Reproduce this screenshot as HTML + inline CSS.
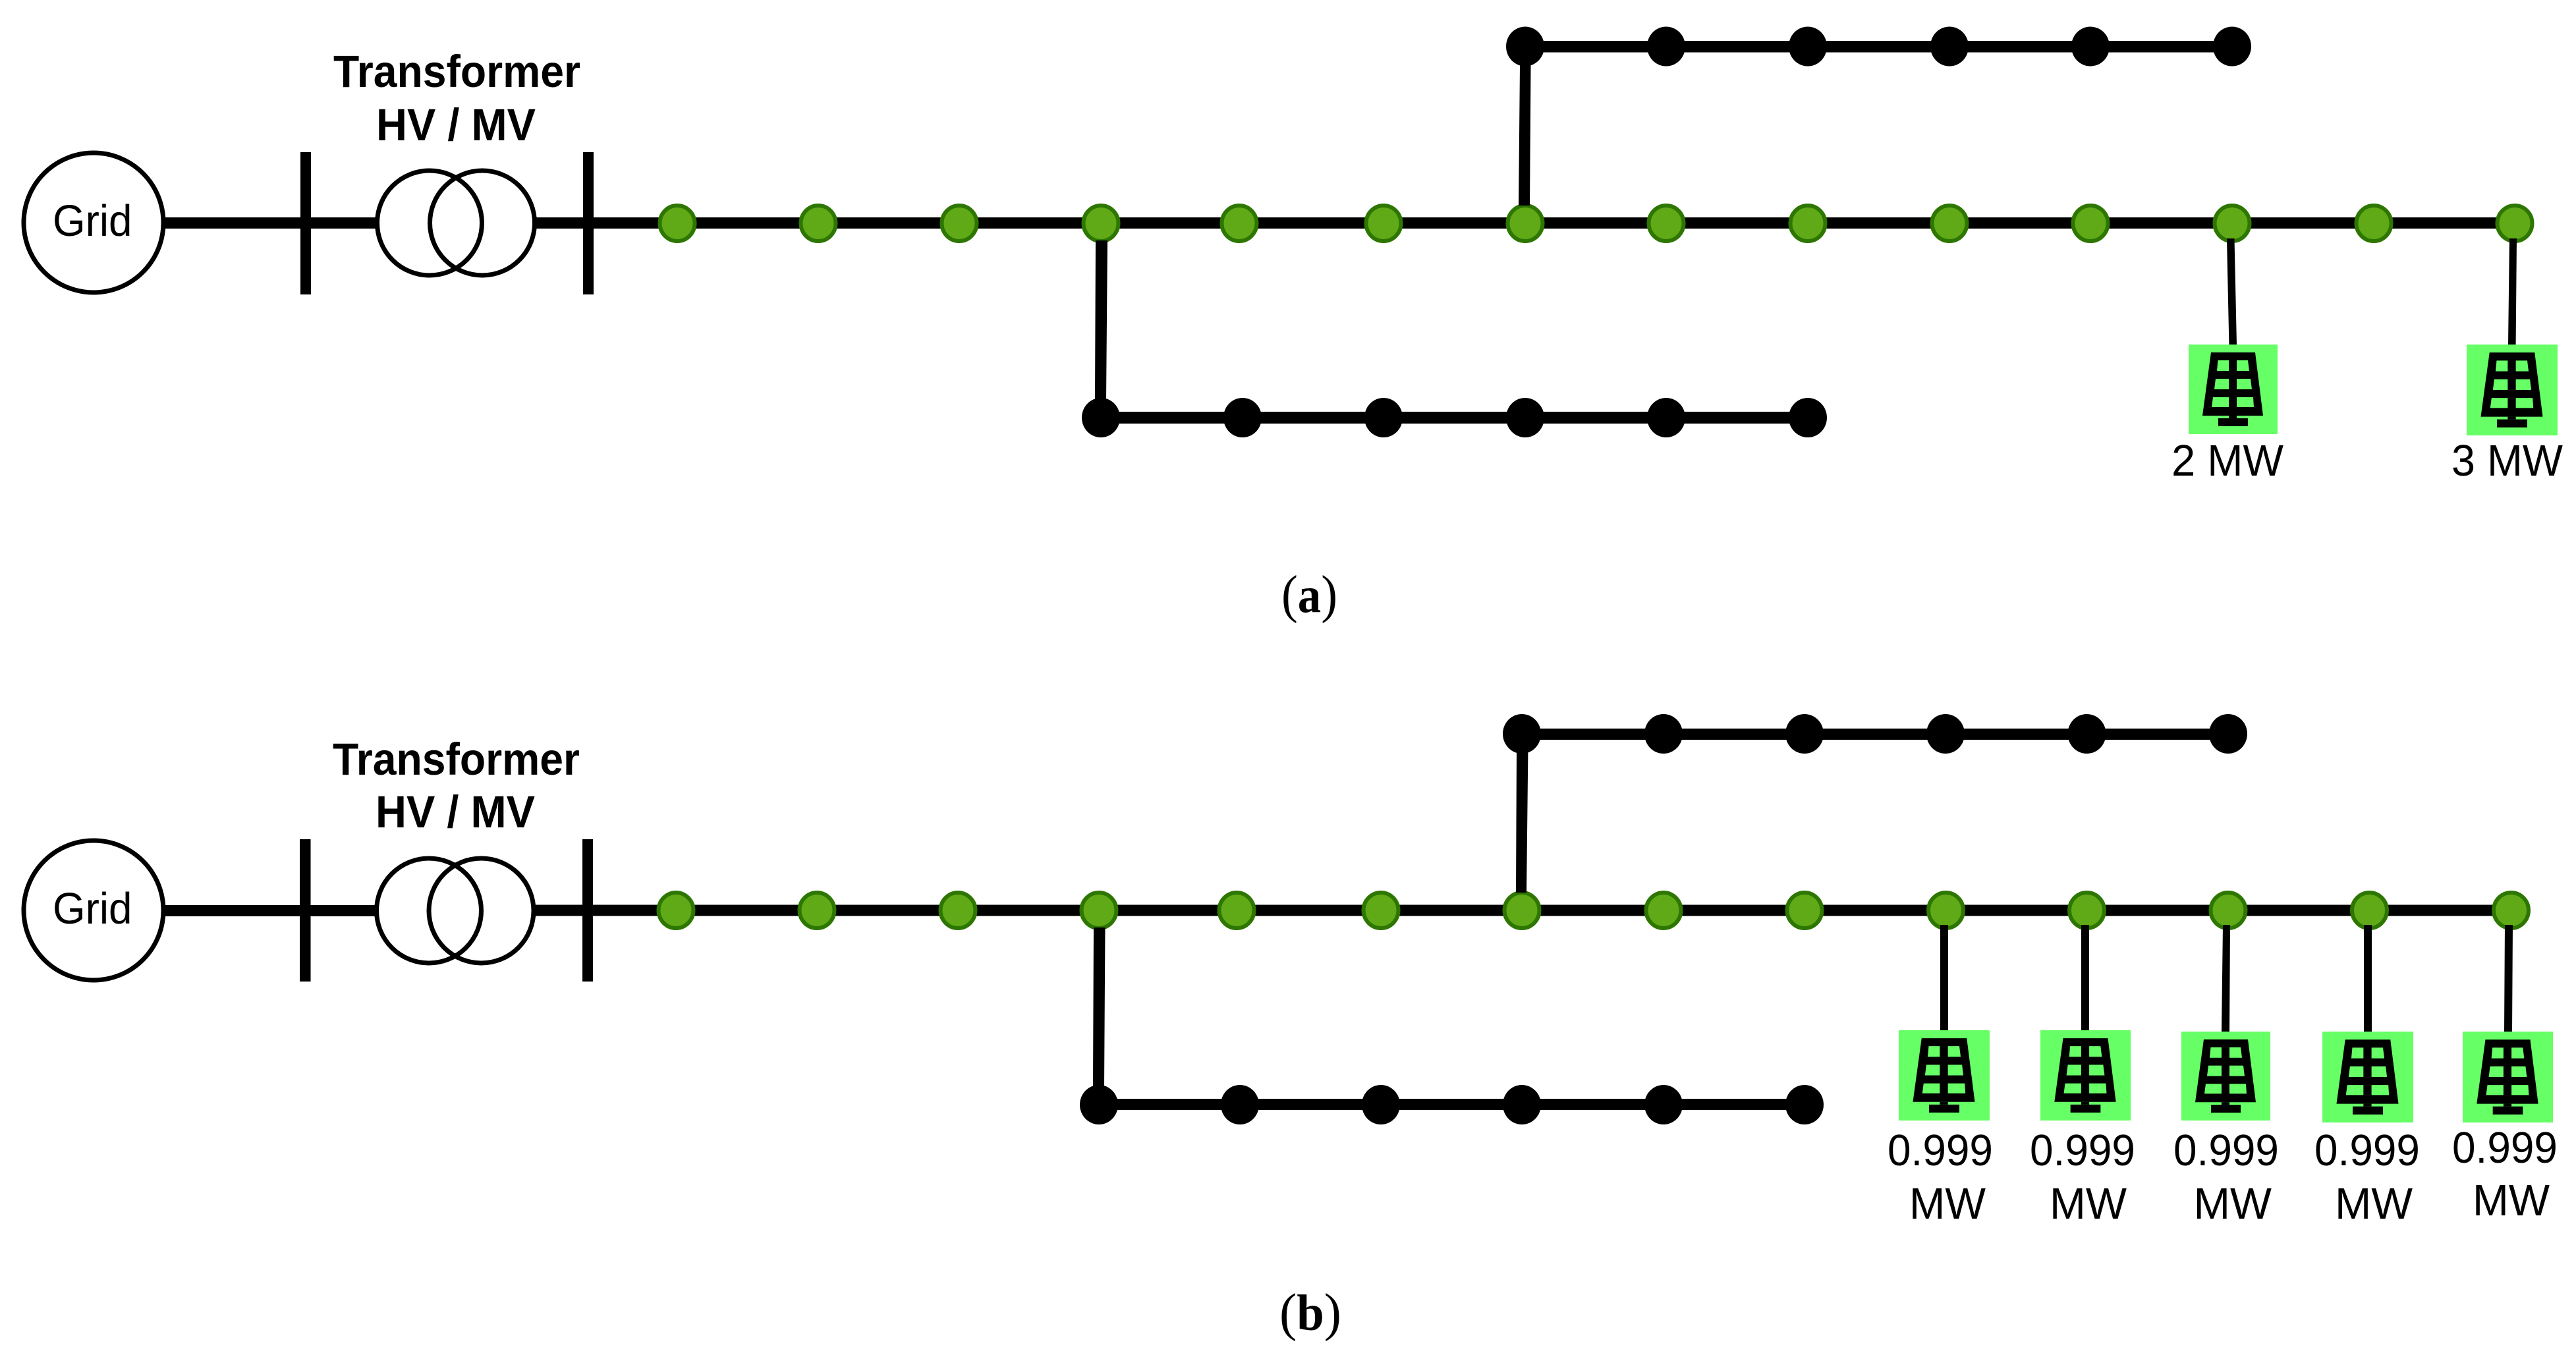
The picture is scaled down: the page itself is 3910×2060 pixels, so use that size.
<!DOCTYPE html>
<html>
<head>
<meta charset="utf-8">
<style>
html,body{margin:0;padding:0;background:#fff;width:3910px;height:2060px;overflow:hidden}
svg{display:block}
text{font-family:"Liberation Sans",sans-serif;fill:#000}
.b{font-weight:bold;font-size:68.5px}
.r{font-size:67px}
.c{font-family:"Liberation Serif",serif;font-size:81px}
.l{font-weight:bold;font-size:77px}
.g{fill:#60a917;stroke:#2d7600;stroke-width:6}
.k{fill:#000}
.o{fill:none;stroke:#000;stroke-width:7}
</style>
</head>
<body>
<svg xmlns="http://www.w3.org/2000/svg" width="3910" height="2060" viewBox="0 0 3910 2060">
<defs>
<symbol id="pv" viewBox="0 0 135 136" preserveAspectRatio="none">
<rect width="135" height="136" fill="#66ff66"/>
<path fill="#000" fill-rule="evenodd" d="M34 12L101 12L113 108L21 108ZM44.5 24L61 24L61 40L43 40ZM73 24L90 24L92 40L73 40ZM41 52L61 52L61 68L39 68ZM73 52L94 52L96 68L73 68ZM37 80L61 80L61 95L35 95ZM73 80L98 80L99 95L73 95Z"/>
<rect x="61" y="108" width="12" height="4" fill="#000"/>
<rect x="45" y="112" width="45" height="12" fill="#000"/>
</symbol>
<ellipse id="gn" rx="26.5" ry="27" class="g"/>
<ellipse id="kn" rx="29" ry="30" class="k"/>
</defs>

<!-- Panel (a) -->
<rect x="456" y="231" width="16" height="216"/>
<rect x="885" y="231" width="16" height="216"/>
<rect x="251" y="330" width="319" height="17"/>
<rect x="814" y="330" width="3003" height="17"/>
<circle cx="142" cy="338" r="106" class="o"/>
<circle cx="652" cy="338.5" r="79.5" class="o"/>
<circle cx="732" cy="338.5" r="79.5" class="o"/>
<text class="r" x="80" y="358" textLength="120.5" lengthAdjust="spacingAndGlyphs">Grid</text>
<text class="b" x="506" y="132" textLength="375" lengthAdjust="spacingAndGlyphs">Transformer</text>
<text class="b" x="571" y="213" textLength="242" lengthAdjust="spacingAndGlyphs">HV / MV</text>

<rect x="2315" y="62" width="1073" height="17.5"/>
<rect x="1671" y="625" width="1073" height="18"/>

<use href="#gn" x="1028" y="339"/><use href="#gn" x="1242" y="339"/><use href="#gn" x="1456" y="339"/>
<use href="#gn" x="1671" y="339"/><use href="#gn" x="1881" y="339"/><use href="#gn" x="2100" y="339"/>
<use href="#gn" x="2315" y="339"/><use href="#gn" x="2529" y="339"/><use href="#gn" x="2744" y="339"/>
<use href="#gn" x="2959" y="339"/><use href="#gn" x="3173" y="339"/><use href="#gn" x="3388" y="339"/>
<use href="#gn" x="3603" y="339"/><use href="#gn" x="3817" y="339"/>

<use href="#kn" x="2315" y="70.5"/><use href="#kn" x="2529" y="70.5"/><use href="#kn" x="2744" y="70.5"/>
<use href="#kn" x="2959" y="70.5"/><use href="#kn" x="3173" y="70.5"/><use href="#kn" x="3388" y="70.5"/>
<use href="#kn" x="1671" y="634"/><use href="#kn" x="1886" y="634"/><use href="#kn" x="2100" y="634"/>
<use href="#kn" x="2315" y="634"/><use href="#kn" x="2529" y="634"/><use href="#kn" x="2744" y="634"/>

<polygon points="2307,99 2323.5,99 2322,312 2305,312"/>
<polygon points="1663,365 1681,365 1679,606 1662,606"/>
<polygon points="3380,362 3391.5,362 3395,523 3383.4,523"/>
<polygon points="3809,362 3820,362 3818.6,523 3807,523"/>

<use href="#pv" x="3322" y="523" width="135" height="136"/>
<use href="#pv" x="3744" y="523" width="138" height="138"/>
<text class="r" x="3296" y="722" textLength="170" lengthAdjust="spacingAndGlyphs">2 MW</text>
<text class="r" x="3721" y="722" textLength="169" lengthAdjust="spacingAndGlyphs">3 MW</text>
<text class="c" x="1945" y="929" textLength="85" lengthAdjust="spacingAndGlyphs">(<tspan class="l">a</tspan>)</text>

<!-- Panel (b) -->
<rect x="455" y="1274" width="16.5" height="216"/>
<rect x="884" y="1274" width="16" height="216"/>
<rect x="251" y="1374" width="318" height="17"/>
<rect x="812" y="1373.5" width="2999" height="17"/>
<circle cx="142" cy="1382" r="106" class="o"/>
<circle cx="651" cy="1382.5" r="79.5" class="o"/>
<circle cx="730.5" cy="1382.5" r="79.5" class="o"/>
<text class="r" x="80" y="1402" textLength="120.5" lengthAdjust="spacingAndGlyphs">Grid</text>
<text class="b" x="505" y="1176" textLength="375" lengthAdjust="spacingAndGlyphs">Transformer</text>
<text class="b" x="570" y="1256" textLength="242" lengthAdjust="spacingAndGlyphs">HV / MV</text>

<rect x="2310" y="1106" width="1072" height="17"/>
<rect x="1668" y="1668" width="1071" height="17"/>

<use href="#gn" x="1026" y="1382"/><use href="#gn" x="1240" y="1382"/><use href="#gn" x="1454" y="1382"/>
<use href="#gn" x="1668" y="1382"/><use href="#gn" x="1877" y="1382"/><use href="#gn" x="2096" y="1382"/>
<use href="#gn" x="2310" y="1382"/><use href="#gn" x="2525" y="1382"/><use href="#gn" x="2739" y="1382"/>
<use href="#gn" x="2953.5" y="1382"/><use href="#gn" x="3167.5" y="1382"/><use href="#gn" x="3382" y="1382"/>
<use href="#gn" x="3596.5" y="1382"/><use href="#gn" x="3811.5" y="1382"/>

<use href="#kn" x="2310" y="1114"/><use href="#kn" x="2525" y="1114"/><use href="#kn" x="2739" y="1114"/>
<use href="#kn" x="2953" y="1114"/><use href="#kn" x="3167.5" y="1114"/><use href="#kn" x="3382" y="1114"/>
<use href="#kn" x="1668" y="1677"/><use href="#kn" x="1882" y="1677"/><use href="#kn" x="2096" y="1677"/>
<use href="#kn" x="2310" y="1677"/><use href="#kn" x="2525" y="1677"/><use href="#kn" x="2739" y="1677"/>

<polygon points="2302,1142 2319.4,1142 2317,1355 2301,1355"/>
<polygon points="1660,1408 1677.5,1408 1676,1649 1659,1649"/>
<polygon points="2945,1404 2957,1404 2957,1564 2945,1564"/>
<polygon points="3159,1404 3171,1404 3171,1564 3159,1564"/>
<polygon points="3374,1404 3385,1404 3384,1566 3372,1566"/>
<polygon points="3588,1404 3600,1404 3600,1566 3588,1566"/>
<polygon points="3802,1404 3814,1404 3813,1566 3801,1566"/>

<use href="#pv" x="2882" y="1564" width="138" height="137"/>
<use href="#pv" x="3097" y="1564" width="137" height="137"/>
<use href="#pv" x="3311" y="1566" width="135" height="135"/>
<use href="#pv" x="3525" y="1566" width="138" height="138"/>
<use href="#pv" x="3738" y="1566" width="137" height="138"/>

<text class="r" x="2865" y="1769" textLength="160" lengthAdjust="spacingAndGlyphs">0.999</text>
<text class="r" x="3081" y="1769" textLength="160" lengthAdjust="spacingAndGlyphs">0.999</text>
<text class="r" x="3299" y="1769" textLength="160" lengthAdjust="spacingAndGlyphs">0.999</text>
<text class="r" x="3513" y="1769" textLength="160" lengthAdjust="spacingAndGlyphs">0.999</text>
<text class="r" x="3722" y="1765" textLength="160" lengthAdjust="spacingAndGlyphs">0.999</text>
<text class="r" x="2898" y="1850" textLength="116" lengthAdjust="spacingAndGlyphs">MW</text>
<text class="r" x="3111" y="1850" textLength="117" lengthAdjust="spacingAndGlyphs">MW</text>
<text class="r" x="3329.5" y="1850" textLength="118.5" lengthAdjust="spacingAndGlyphs">MW</text>
<text class="r" x="3544" y="1850" textLength="118" lengthAdjust="spacingAndGlyphs">MW</text>
<text class="r" x="3753" y="1845" textLength="117" lengthAdjust="spacingAndGlyphs">MW</text>
<text class="c" x="1942" y="2019" textLength="94" lengthAdjust="spacingAndGlyphs">(<tspan class="l">b</tspan>)</text>
</svg>
</body>
</html>
